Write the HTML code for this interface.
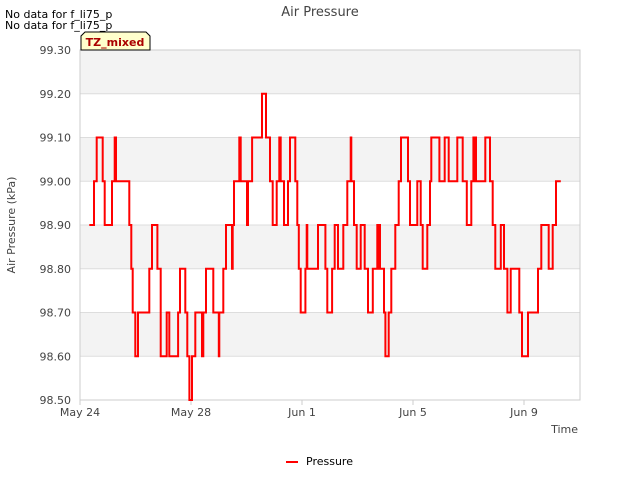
<!DOCTYPE html>
<html><head><meta charset="utf-8"><style>
body{margin:0;background:#fff;font-family:"Liberation Sans","DejaVu Sans",sans-serif}
</style></head><body>
<svg width="640" height="480" xmlns="http://www.w3.org/2000/svg" font-family="DejaVu Sans, Liberation Sans, sans-serif">
<g id="bands"></g>
<g id="grid"></g>
<rect x="80" y="50" width="500" height="350" fill="none" stroke="#ccc"/>
<g id="yticks"></g>
<g id="xticks"></g>
<path id="line" fill="none" stroke="#ff0000" stroke-width="2"/>
<text x="320" y="16" text-anchor="middle" font-size="13" fill="#444">Air Pressure</text>
<text x="15" y="225" text-anchor="middle" font-size="11" fill="#444" transform="rotate(-90 15 225)">Air Pressure (kPa)</text>
<text x="578" y="433" text-anchor="end" font-size="11" fill="#444">Time</text>
<text x="5" y="18" font-size="11" fill="#000">No data for f_li75_p</text>
<text x="5" y="29" font-size="11" fill="#000">No data for f_li75_p</text>
<g>
<path d="M81,50 L81,36 L85,32 L146,32 L150,36 L150,50 Z" fill="#ffffcc" stroke="#000"/>
<text x="115" y="46" text-anchor="middle" font-size="11" font-weight="bold" fill="#aa0000">TZ_mixed</text>
</g>
<g>
<line x1="286" y1="462" x2="298" y2="462" stroke="#ff0000" stroke-width="2"/>
<text x="306" y="465" font-size="11" fill="#000">Pressure</text>
</g>
</svg>
<script>
const hours=[8.0,12.1,14.4,19.6,21.4,27.7,30.0,31.1,42.6,44.4,45.6,47.8,50.2,59.9,62.3,66.9,69.8,75.0,77.2,84.8,86.5,91.1,92.8,94.6,96.9,99.7,105.5,106.6,109.0,115.3,120.0,120.5,123.9,126.3,131.5,132.1,133.2,137.8,139.0,144.4,145.3,148.8,157.4,160.9,164.3,166.7,170.1,172.4,173.6,176.4,179.9,181.6,186.2,187.9,189.2,190.9,194.9,196.1,196.6,205.8,212.2,213.9,218.0,220.3,223.1,227.7,231.2,234.1,234.6,237.0,239.3,242.8,246.2,249.1,253.2,257.1,257.7,258.6,259.5,262.9,264.1,267.0,269.2,272.7,275.6,277.6,283.7,285.4,291.7,294.7,296.4,300.4,302.7,303.8,310.8,315.4,318.9,326.3,331.0,334.5,338.4,340.2,341.0,341.9,342.5,350.5,354.6,356.9,359.2,363.9,366.7,369.6,372.5,379.9,382.3,387.5,396.1,399.0,405.4,408.8,411.7,415.8];
const pressure=[98.9,99.0,99.1,99.0,98.9,99.0,99.1,99.0,98.9,98.8,98.7,98.6,98.7,98.8,98.9,98.8,98.6,98.7,98.6,98.7,98.8,98.7,98.6,98.5,98.6,98.7,98.6,98.7,98.8,98.7,98.6,98.7,98.8,98.9,98.8,98.9,99.0,99.1,99.0,98.9,99.0,99.1,99.2,99.1,99.0,98.9,99.0,99.1,99.0,98.9,99.0,99.1,99.0,98.9,98.8,98.7,98.8,98.9,98.8,98.9,98.8,98.7,98.8,98.9,98.8,98.9,99.0,99.1,99.0,98.9,98.8,98.9,98.8,98.7,98.8,98.9,98.8,98.9,98.8,98.7,98.6,98.7,98.8,98.9,99.0,99.1,99.0,98.9,99.0,98.9,98.8,98.9,99.0,99.1,99.0,99.1,99.0,99.1,99.0,98.9,99.0,99.1,99.0,99.1,99.0,99.1,99.0,98.9,98.8,98.9,98.8,98.7,98.8,98.7,98.6,98.7,98.8,98.9,98.8,98.9,99.0,99.0];
const yTicks=[98.5,98.6,98.7,98.8,98.9,99.0,99.1,99.2,99.3];
const xTickDays=[0,4,8,12,16];
const xTickLabels=["May 24","May 28","Jun 1","Jun 5","Jun 9"];
const NS="http://www.w3.org/2000/svg";
const X0=80,X1=580,Y0=400,Y1=50,YMIN=98.5,YMAX=99.3,PXDAY=27.75;
function xs(h){return X0+h/24*PXDAY;}
function ys(v){return Y0-(v-YMIN)/(YMAX-YMIN)*(Y0-Y1);}
function mk(tag,attrs,parent){const e=document.createElementNS(NS,tag);for(const k in attrs)e.setAttribute(k,attrs[k]);document.getElementById(parent).appendChild(e);return e;}
for(let i=0;i<yTicks.length-1;i++){
  if(i%2===1){const r=mk('rect',{x:X0,y:ys(yTicks[i+1]),width:X1-X0,height:ys(yTicks[i])-ys(yTicks[i+1]),fill:'#f3f3f3'},'bands');
  
  }
}
yTicks.forEach(v=>{
  const l=mk('line',{x1:X0,x2:X1,y1:ys(v),y2:ys(v),stroke:'#ddd'},'grid');
  
  
  const t=mk('text',{x:X0-9,y:ys(v)+4,'text-anchor':'end','font-size':'11',fill:'#444'},'yticks');
  t.textContent=v.toFixed(2);
  
  
});
xTickDays.forEach((d,i)=>{
  const x=xs(d*24);
  const l=mk('line',{x1:x,x2:x,y1:Y0,y2:Y0+5,stroke:'#ccc'},'xticks');
  
  
  const t=mk('text',{x:x,y:Y0+16,'text-anchor':'middle','font-size':'11',fill:'#444'},'xticks');
  t.textContent=xTickLabels[i];
  
  
});
let d='';
for(let i=0;i<hours.length;i++){
  const x=xs(hours[i]).toFixed(1),y=ys(pressure[i]).toFixed(1);
  if(i===0)d+='M'+x+','+y;
  else d+='L'+x+','+ys(pressure[i-1]).toFixed(1)+'L'+x+','+y;
}
document.getElementById('line').setAttribute('d',d);
</script>
</body></html>
